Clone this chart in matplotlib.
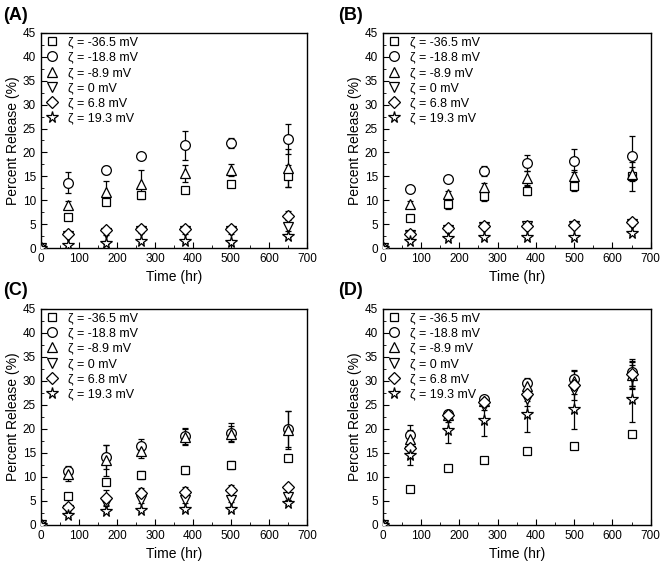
import numpy as np
import matplotlib
matplotlib.use("Agg")
import matplotlib.pyplot as plt
from matplotlib.ticker import MultipleLocator

plt.rcParams['font.family'] = ['Liberation Sans', 'DejaVu Sans']

# sampling times (hr)
time = [0, 72, 170, 264, 378, 500, 650]

labels = ["ζ = -36.5 mV", "ζ = -18.8 mV", "ζ = -8.9 mV",
          "ζ = 0 mV", "ζ = 6.8 mV", "ζ = 19.3 mV"]
markers = ['s', 'o', '^', 'v', 'D', '*']
msizes = [6, 7, 7.5, 7.5, 6, 8.5]
panel_names = ["(A)", "(B)", "(C)", "(D)"]

# percent release, one list per zeta potential, per panel
a_m365 = [0, 6.5, 9.7, 11.0, 12.2, 13.3, 15.0]
a_m188 = [0, 13.7, 16.3, 19.3, 21.5, 22.0, 22.8]
a_m89 = [0, 9.0, 11.7, 13.3, 15.6, 16.3, 16.8]
a_0 = [0, 2.6, 3.2, 3.6, 3.5, 3.5, 4.3]
a_68 = [0, 3.0, 3.8, 4.0, 4.0, 4.0, 6.8]
a_193 = [0, 0.6, 1.1, 1.4, 1.4, 1.3, 2.6]
a_m365_err = [0, 0.4, 0.6, 0.6, 0.5, 0.6, 2.3]
a_m188_err = [0, 2.1, 0.8, 0.4, 3.0, 1.0, 3.2]
a_m89_err = [0, 0.8, 2.3, 3.0, 1.7, 1.3, 4.0]
a_0_err = [0, 0.4, 0.5, 0.4, 0.5, 0.5, 0.8]
a_68_err = [0, 0.5, 0.5, 0.5, 0.5, 0.5, 1.0]
a_193_err = [0, 0.3, 0.3, 0.3, 0.3, 0.3, 0.4]

b_m365 = [0, 6.2, 9.3, 10.9, 12.0, 13.0, 15.0]
b_m188 = [0, 12.4, 14.5, 16.1, 17.8, 18.3, 19.2]
b_m89 = [0, 9.3, 11.3, 12.7, 14.6, 15.1, 15.5]
b_0 = [0, 2.8, 3.8, 4.3, 4.5, 4.6, 5.0]
b_68 = [0, 3.0, 4.1, 4.6, 4.7, 4.9, 5.5]
b_193 = [0, 1.5, 2.0, 2.2, 2.2, 2.2, 3.2]
b_m365_err = [0, 0.3, 1.2, 1.0, 1.0, 1.0, 3.0]
b_m188_err = [0, 0.3, 0.3, 1.0, 1.7, 2.4, 4.2]
b_m89_err = [0, 0.5, 0.7, 1.0, 1.5, 1.3, 1.5]
b_0_err = [0, 0.4, 0.4, 0.4, 0.4, 0.4, 0.5]
b_68_err = [0, 0.4, 0.4, 0.4, 0.4, 0.4, 0.5]
b_193_err = [0, 0.3, 0.3, 0.3, 0.3, 0.3, 0.4]

c_m365 = [0, 6.0, 9.0, 10.4, 11.5, 12.5, 14.0]
c_m188 = [0, 11.3, 14.2, 16.5, 18.5, 19.2, 20.0]
c_m89 = [0, 10.7, 13.5, 15.4, 18.3, 19.0, 19.8]
c_0 = [0, 3.2, 4.6, 5.2, 5.2, 5.3, 5.8]
c_68 = [0, 3.8, 5.7, 6.7, 6.9, 7.2, 8.0]
c_193 = [0, 2.0, 2.9, 3.2, 3.4, 3.4, 4.6]
c_m365_err = [0, 0.3, 0.4, 0.8, 0.8, 0.9, 0.5]
c_m188_err = [0, 0.5, 2.5, 1.4, 1.6, 2.0, 3.8]
c_m89_err = [0, 1.5, 3.2, 1.5, 1.7, 1.6, 4.0]
c_0_err = [0, 0.5, 0.6, 0.6, 0.6, 0.6, 0.6]
c_68_err = [0, 0.5, 1.5, 1.0, 1.0, 1.2, 0.5]
c_193_err = [0, 0.3, 0.4, 0.4, 0.4, 0.4, 0.5]

d_m365 = [0, 7.4, 11.8, 13.6, 15.3, 16.5, 19.0]
d_m188 = [0, 18.8, 23.0, 26.2, 29.5, 30.3, 31.8]
d_m89 = [0, 17.8, 22.8, 25.8, 29.0, 30.0, 31.3]
d_0 = [0, 15.5, 22.3, 24.8, 26.3, 28.0, 30.8]
d_68 = [0, 16.0, 22.8, 25.5, 27.3, 29.2, 31.5]
d_193 = [0, 14.5, 19.8, 21.8, 23.2, 24.2, 26.3]
d_m365_err = [0, 0.4, 0.3, 0.3, 0.3, 0.3, 0.3]
d_m188_err = [0, 2.0, 0.8, 0.7, 1.0, 2.0, 2.8]
d_m89_err = [0, 2.0, 0.8, 0.7, 1.0, 2.0, 2.8]
d_0_err = [0, 1.5, 0.8, 0.8, 1.5, 2.0, 2.5]
d_68_err = [0, 1.5, 0.8, 0.8, 1.5, 2.0, 2.5]
d_193_err = [0, 2.0, 2.8, 3.3, 3.8, 4.2, 4.8]

panels = [
    ([a_m365, a_m188, a_m89, a_0, a_68, a_193],
     [a_m365_err, a_m188_err, a_m89_err, a_0_err, a_68_err, a_193_err]),
    ([b_m365, b_m188, b_m89, b_0, b_68, b_193],
     [b_m365_err, b_m188_err, b_m89_err, b_0_err, b_68_err, b_193_err]),
    ([c_m365, c_m188, c_m89, c_0, c_68, c_193],
     [c_m365_err, c_m188_err, c_m89_err, c_0_err, c_68_err, c_193_err]),
    ([d_m365, d_m188, d_m89, d_0, d_68, d_193],
     [d_m365_err, d_m188_err, d_m89_err, d_0_err, d_68_err, d_193_err]),
]

fig = plt.figure(figsize=(6.6, 5.63), dpi=100)
rects = [[0.062, 0.5595, 0.403, 0.382],
         [0.580, 0.5595, 0.406, 0.382],
         [0.062, 0.0675, 0.403, 0.384],
         [0.580, 0.0675, 0.406, 0.384]]
title_pos = [(0.005, 0.972), (0.512, 0.972), (0.005, 0.484), (0.512, 0.484)]

for k in range(4):
    ax = fig.add_axes(rects[k])
    ys, errs = panels[k]
    for i in range(6):
        ax.errorbar(time, ys[i], yerr=errs[i], fmt='none', ecolor='black',
                    elinewidth=0.9, capsize=2, capthick=0.9, zorder=2)
        ax.plot(time, ys[i], ls='none', marker=markers[i], ms=msizes[i],
                mfc='white', mec='black', mew=0.9, label=labels[i], zorder=3)
    ax.set_xlim(0, 700)
    ax.set_ylim(0, 45)
    ax.xaxis.set_major_locator(MultipleLocator(100))
    ax.xaxis.set_minor_locator(MultipleLocator(50))
    ax.yaxis.set_major_locator(MultipleLocator(5))
    ax.yaxis.set_minor_locator(MultipleLocator(2.5))
    ax.tick_params(which='both', direction='in', labelsize=8.5)
    ax.tick_params(which='major', length=4)
    ax.tick_params(which='minor', length=2)
    for sp in ax.spines.values():
        sp.set_linewidth(1.0)
    ax.set_xlabel("Time (hr)", fontsize=10)
    ax.set_ylabel("Percent Release (%)", fontsize=10, labelpad=2)
    ax.legend(loc='upper left', frameon=False, fontsize=9,
              handletextpad=0.7, labelspacing=0.25, borderaxespad=0.0,
              borderpad=0.3, handlelength=1.2)
    fig.text(title_pos[k][0], title_pos[k][1], panel_names[k],
             fontsize=13, fontweight='bold', va='center')

fig.savefig("out.png", dpi=100)
